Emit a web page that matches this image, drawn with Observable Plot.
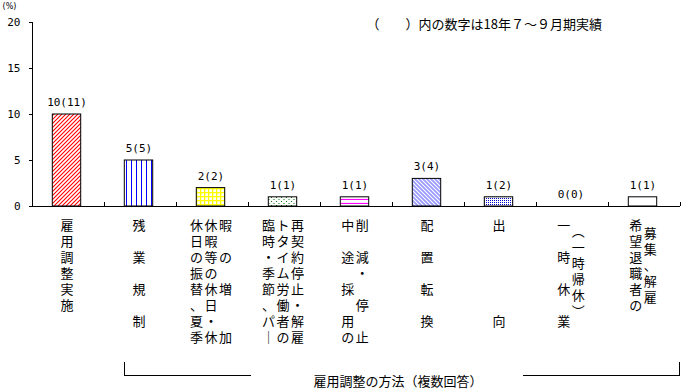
<!DOCTYPE html>
<html>
<head>
<meta charset="utf-8">
<script src="https://cdn.jsdelivr.net/npm/d3@7"></script>
<script src="https://cdn.jsdelivr.net/npm/@observablehq/plot@0.6"></script>
<style>
  html, body { margin: 0; padding: 0; background: #fff; }
  #wrap { position: relative; width: 684px; height: 390px; overflow: hidden; background: #fff; }
  .br { position: absolute; border-color: #000; border-style: solid; border-width: 0; }
  #caption { position: absolute; font-family: "Noto Sans CJK JP", sans-serif; font-size: 13px; line-height: 14px; color: #000; white-space: nowrap; transform: translateX(-50%); }
</style>
</head>
<body>
<div id="wrap"></div>
<script>
// ---- data ----
const categories = [
  "雇用調整実施",
  "残業規制",
  "休日の振替、夏季休暇等の休日・休暇の増加",
  "臨時・季節、パートタイム労働者の再契約停止・解雇",
  "中途採用の削減・停止",
  "配置転換",
  "出向",
  "一時休業（一時帰休）",
  "希望退職者の募集、解雇"
];
const values = [10, 5, 2, 1, 1, 3, 1, 0, 1];        // current
const prevValues = [11, 5, 2, 1, 1, 4, 2, 0, 1];    // (18年7～9月期)
const yTicks = [0, 5, 10, 15, 20];
// tick labels as vertical columns (left to right), one char per row
const tickLabelColumns = [
  ["雇用調整実施"],
  ["残　業　規　制"],
  ["休日の振替、夏季", "休暇等の休日・休", "暇　の　増　　加"],
  ["臨時・季節、パ｜", "トタイム労働者の", "再契約停止・解雇"],
  ["中　途　採　用の", "削　減・　停　止"],
  ["配　置　転　換"],
  ["出　　　　　向"],
  ["一　時　休　業", "︵一時帰休︶"],
  ["希望退職者の", "募集、解雇"]
];
const noteText = "（　　）内の数字は18年７～９月期実績";
const unitText = "(%)";
const axisTitle = "雇用調整の方法（複数回答）";
const patternIds = ["p0", "p1", "p2", "p3", "p4", "p5", "p6", "p7", "p8"];

// ---- layout ----
const W = 684, H = 350, mL = 32, mR = 4, mT = 22, axisY = 206;
const mB = H - axisY;
const bw = (W - mL - mR) / categories.length;
const barW = 28.4, barShift = -1.5;
const insetL = bw / 2 - barW / 2 + barShift, insetR = bw / 2 - barW / 2 - barShift;
const colPitch = 14.5, labelGap = 12.5, rowH = 16, jpSize = 13;
const columnShift = {7: [0, 6], 8: [0, 8]};

const data = categories.map((c, i) => ({category: c, value: values[i], prev: prevValues[i], pattern: `url(#${patternIds[i]})`}));

const labelMarks = tickLabelColumns.flatMap((cols, i) => cols.map((col, j) => Plot.text([categories[i]], {
  x: d => d,
  text: () => [...col].join("\n"),
  frameAnchor: "bottom",
  lineAnchor: "top",
  textAnchor: "middle",
  dx: barShift + (j - (cols.length - 1) / 2) * colPitch,
  dy: labelGap + ((columnShift[i] && columnShift[i][j]) || 0),
  fontFamily: "Noto Sans CJK JP",
  fontSize: jpSize,
  lineHeight: rowH / jpSize,
  fill: "black"
})));

const chart = Plot.plot({
  width: W, height: H,
  marginLeft: mL, marginRight: mR, marginTop: mT, marginBottom: mB,
  style: {fontFamily: "'DejaVu Sans Mono', monospace", fontSize: "11px", background: "white", color: "black", overflow: "visible"},
  x: {domain: categories, padding: 0, axis: null},
  y: {domain: [0, 20], axis: null},
  color: {type: "identity"},
  marks: [
    Plot.axisY({ticks: yTicks, tickSize: 3, tickPadding: 9, label: null, fontSize: 11}),
    Plot.barY(data, {x: "category", y: "value", fill: "pattern", stroke: "black", strokeWidth: 1, insetLeft: insetL, insetRight: insetR}),
    Plot.frame({anchor: "left"}),
    Plot.ruleY([0]),
    Plot.ruleX(categories, {x: d => d, dx: bw / 2, insetTop: (axisY - mT) - 4}),
    Plot.text(data, {x: "category", y: "value", text: d => `${d.value}(${d.prev})`, dx: barShift, dy: -8.5, lineAnchor: "bottom", fontSize: 11}),
    Plot.text([unitText], {frameAnchor: "top-left", text: d => d, dx: -23, dy: -16, textAnchor: "middle", fontFamily: "DejaVu Sans", fontSize: 8, lineAnchor: "middle"}),
    Plot.text([noteText], {frameAnchor: "top-left", text: d => d, dx: 334, dy: 2, textAnchor: "start", lineAnchor: "middle", fontFamily: "Noto Sans CJK JP", fontSize: 13}),
    ...labelMarks
  ]
});

// ---- fill patterns ----
const svg = d3.select(chart);
const defs = svg.insert("defs", ":first-child");
function pat(id, w, h) {
  const p = defs.append("pattern").attr("id", id).attr("patternUnits", "userSpaceOnUse").attr("width", w).attr("height", h);
  p.append("rect").attr("width", w).attr("height", h).attr("fill", "white");
  return p;
}
// red "/" hatch
pat("p0", 4, 4).append("path").attr("d", "M-1,1L1,-1M0,4L4,0M3,5L5,3").attr("stroke", "#ff0000").attr("stroke-width", 1.1);
// blue vertical lines
pat("p1", 5, 5).append("path").attr("d", "M1.5,0V5").attr("stroke", "#0000ff").attr("stroke-width", 1);
// yellow grid
{ const p = pat("p2", 4, 4); p.select("rect").attr("fill", "#ffff00"); p.append("rect").attr("x", 1.3).attr("y", 1.3).attr("width", 2.7).attr("height", 2.7).attr("fill", "white"); }
// green sparse dots
{ const p = pat("p3", 5, 4); p.append("rect").attr("x", 1).attr("y", 1).attr("width", 1).attr("height", 1).attr("fill", "#008000"); p.append("rect").attr("x", 3.5).attr("y", 3).attr("width", 1).attr("height", 1).attr("fill", "#008000"); }
// magenta horizontal lines
pat("p4", 4, 4).append("path").attr("d", "M0,3.5H4").attr("stroke", "#ff00ff").attr("stroke-width", 1.2);
// periwinkle "\" hatch
pat("p5", 4, 4).append("path").attr("d", "M-1,-1L5,5M3,-1L5,1M-1,3L1,5").attr("stroke", "#9999ff").attr("stroke-width", 1.7);
// blue dense dots
pat("p6", 2, 2).append("rect").attr("x", 0).attr("y", 0).attr("width", 1).attr("height", 1).attr("fill", "#0000cc");
pat("p7", 4, 4);
pat("p8", 4, 4);

const wrap = document.getElementById("wrap");
wrap.appendChild(chart);

// ---- bottom bracket ----
const xs = chart.scale("x");
const bLeft = Math.round(xs.apply(categories[1]) + insetL);
const bRight = Math.round(xs.apply(categories[categories.length - 1]) + bw) - 1;
const tickTop = 362, lineY = 375, gapL = 250, gapR = 523;
function seg(css) { const d = document.createElement("div"); d.className = "br"; Object.assign(d.style, css); wrap.appendChild(d); }
seg({left: bLeft + "px", top: tickTop + "px", width: (gapL - bLeft) + "px", height: (lineY - tickTop) + "px", borderLeftWidth: "1px", borderBottomWidth: "1px"});
seg({left: gapR + "px", top: tickTop + "px", width: (bRight - gapR) + "px", height: (lineY - tickTop) + "px", borderRightWidth: "1px", borderBottomWidth: "1px"});
const cap = document.createElement("div");
cap.id = "caption";
cap.textContent = axisTitle;
cap.style.left = "398px";
cap.style.top = "374px";
wrap.appendChild(cap);
</script>
</body>
</html>
